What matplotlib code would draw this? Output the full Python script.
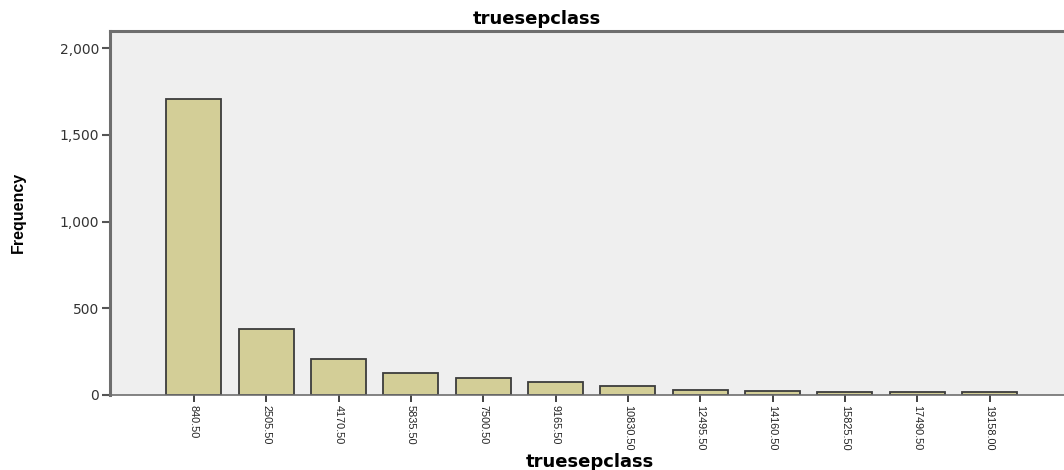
import matplotlib
matplotlib.use("Agg")
import matplotlib.pyplot as plt

# Дані
class_labels = ["840.50", "2505.50", "4170.50", "5835.50", "7500.50", "9165.50",
                "10830.50", "12495.50", "14160.50", "15825.50", "17490.50", "19158.00"]
frequencies = [1705, 380, 206, 127, 97, 74, 49, 31, 23, 19, 16, 15]
y_ticks = [0, 500, 1000, 1500, 2000]
y_tick_labels = ["0", "500", "1,000", "1,500", "2,000"]

narrow = ["Liberation Sans Narrow", "Liberation Sans", "DejaVu Sans"]

fig = plt.figure(figsize=(10.64, 4.70), dpi=100)
ax = fig.add_axes([110 / 1064, 1 - 395 / 470, (1064 - 110) / 1064, (395 - 31) / 470])
ax.set_facecolor("#efefef")

positions = range(len(class_labels))
ax.bar(positions, frequencies, width=0.76, color="#d3ce97",
       edgecolor="#3c3c3c", linewidth=1.3, zorder=2)

ax.set_xlim(-1.16, 12.03)
ax.set_ylim(0, 2098)

ax.set_yticks(y_ticks)
ax.set_yticklabels(y_tick_labels, fontsize=10, color="#333333")
ax.set_xticks(list(positions))
ax.set_xticklabels(class_labels, rotation=270, fontsize=7.8, family=narrow,
                   color="#222222")
ax.tick_params(axis="y", direction="out", length=6, width=1.5, color="#555555", pad=2)
ax.tick_params(axis="x", direction="out", length=5, width=1.2, color="#222222", pad=2)

for side in ["left", "top"]:
    ax.spines[side].set_color("#6e6e6e")
    ax.spines[side].set_linewidth(2.2)
ax.spines["bottom"].set_color("#6e6e6e")
ax.spines["bottom"].set_linewidth(1.2)
ax.spines["right"].set_visible(False)

fig.text(537 / 1064, 1 - 19 / 470, "truesepclass", ha="center", va="center",
         fontsize=13, fontweight="bold")
fig.text(590 / 1064, 1 - 462 / 470, "truesepclass", ha="center", va="center",
         fontsize=13, fontweight="bold")
fig.text(18 / 1064, 1 - 212 / 470, "Frequency", ha="center", va="center",
         rotation=90, fontsize=11.5, fontweight="bold", family=narrow)

fig.savefig("out.png", dpi=100)
